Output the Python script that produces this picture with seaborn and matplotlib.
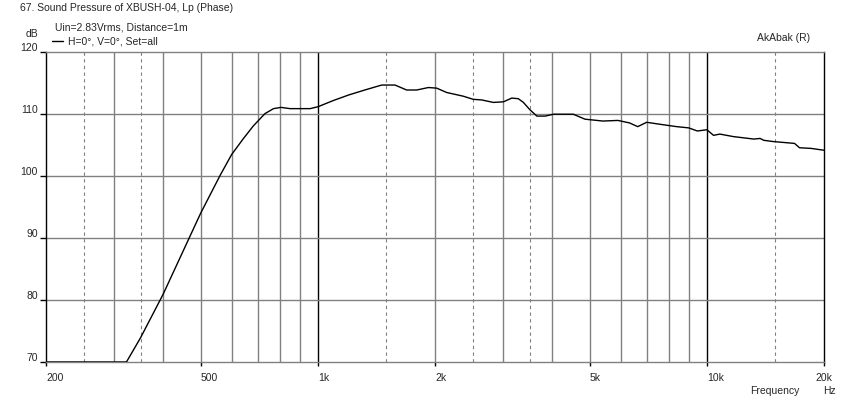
import numpy as np
import pandas as pd
import matplotlib
matplotlib.use('Agg')
import matplotlib.pyplot as plt
from matplotlib.lines import Line2D
import seaborn as sns

# frequency response (Hz, dB)
freq_hz = [200, 322, 350, 400, 467, 500, 560, 600, 642, 682, 731, 769, 804, 848, 955,
           1000, 1095, 1200, 1320, 1459, 1578, 1691, 1795, 1924, 2020, 2143, 2365, 2507,
           2637, 2825, 3000, 3150, 3275, 3375, 3510, 3655, 3840, 4035, 4534, 4860, 5405,
           5906, 6325, 6640, 7000, 7540, 8360, 8980, 9450, 10000, 10400, 10800, 11690,
           13200, 13700, 14000, 14800, 16800, 17300, 18500, 20000]
spl_db = [70, 70, 73.9, 80.9, 90.0, 94.0, 100.0, 103.4, 105.9, 108.0, 110.0, 110.8, 111.0,
          110.8, 110.8, 111.1, 112.1, 113.0, 113.8, 114.6, 114.6, 113.8, 113.8, 114.2, 114.1,
          113.4, 112.8, 112.3, 112.2, 111.8, 111.9, 112.5, 112.4, 111.8, 110.6, 109.6, 109.6,
          109.9, 109.9, 109.1, 108.8, 108.9, 108.5, 107.9, 108.6, 108.3, 107.9, 107.7, 107.2,
          107.4, 106.5, 106.7, 106.3, 105.9, 106.0, 105.7, 105.5, 105.2, 104.5, 104.4, 104.1]

x_ticks = [200, 500, 1000, 2000, 5000, 10000, 20000]
x_tick_labels = ['200', '500', '1k', '2k', '5k', '10k', '20k']
y_ticks = [70, 80, 90, 100, 110, 120]

decade_lines = [1000, 10000]
solid_lines = [300, 400, 500, 600, 700, 800, 900,
               2000, 3000, 4000, 5000, 6000, 7000, 8000, 9000]
dashed_lines = [250, 350, 1500, 2500, 3500, 15000]

title = '67. Sound Pressure of XBUSH-04, Lp (Phase)'
subtitle = 'Uin=2.83Vrms, Distance=1m'
legend_label = 'H=0°, V=0°, Set=all'

df = pd.DataFrame({'freq': freq_hz, 'spl': spl_db})

sns.set_style('white')
plt.rcParams['font.family'] = ['Liberation Sans', 'DejaVu Sans']
fs = 7.5
W, H = 845, 402

fig = plt.figure(figsize=(W / 100, H / 100), dpi=100)
ax = fig.add_axes([46 / W, 1 - 363 / H, 778 / W, 310.5 / H])

grid_col = '#808080'
for f in solid_lines:
    ax.axvline(f, color=grid_col, lw=1, zorder=1)
for f in dashed_lines:
    ax.axvline(f, color=grid_col, lw=0.8, ls=(0, (3, 3)), zorder=1)
for f in decade_lines:
    ax.axvline(f, color='black', lw=1, zorder=1)
for v in y_ticks[1:-1]:
    ax.axhline(v, color=grid_col, lw=1, zorder=1)

sns.lineplot(data=df, x='freq', y='spl', color='black', lw=1, ax=ax, zorder=3)

ax.set_xscale('log')
ax.set_xlim(200, 20000)
ax.set_ylim(70, 120)
ax.set_xlabel('')
ax.set_ylabel('')

ax.set_xticks(x_ticks)
ax.set_xticklabels(x_tick_labels, ha='left', fontsize=fs)
ax.xaxis.set_minor_locator(matplotlib.ticker.NullLocator())
labels = ax.get_xticklabels()
labels[-1].set_ha('center')
ax.tick_params(axis='x', length=3, width=1, color='black', pad=4, bottom=True)

ax.set_yticks(y_ticks)
ax.set_yticklabels([str(v) for v in y_ticks], fontsize=fs, va='bottom')
ax.tick_params(axis='y', length=4, width=1, color='black', pad=2, left=True)

for side in ['left', 'right']:
    ax.spines[side].set_color('black')
    ax.spines[side].set_linewidth(1)
for side in ['top', 'bottom']:
    ax.spines[side].set_color(grid_col)
    ax.spines[side].set_linewidth(1)

def px(x, y):
    return x / W, 1 - y / H

fig.text(*px(20, 8), title, fontsize=fs, va='center', ha='left')
fig.text(*px(55, 27), subtitle, fontsize=fs, va='center', ha='left')
fig.text(*px(38, 34), 'dB', fontsize=fs, va='center', ha='right')
fig.add_artist(Line2D([52 / W, 63 / W], [1 - 42 / H, 1 - 42 / H], color='black', lw=1))
fig.text(*px(68, 42), legend_label, fontsize=fs, va='center', ha='left')
fig.text(*px(810, 38), 'AkAbak (R)', fontsize=fs, va='center', ha='right')
fig.text(*px(800, 391), 'Frequency', fontsize=fs, va='center', ha='right')
fig.text(*px(823, 391), 'Hz', fontsize=fs, va='center', ha='left')

fig.savefig('out.png', dpi=100)
